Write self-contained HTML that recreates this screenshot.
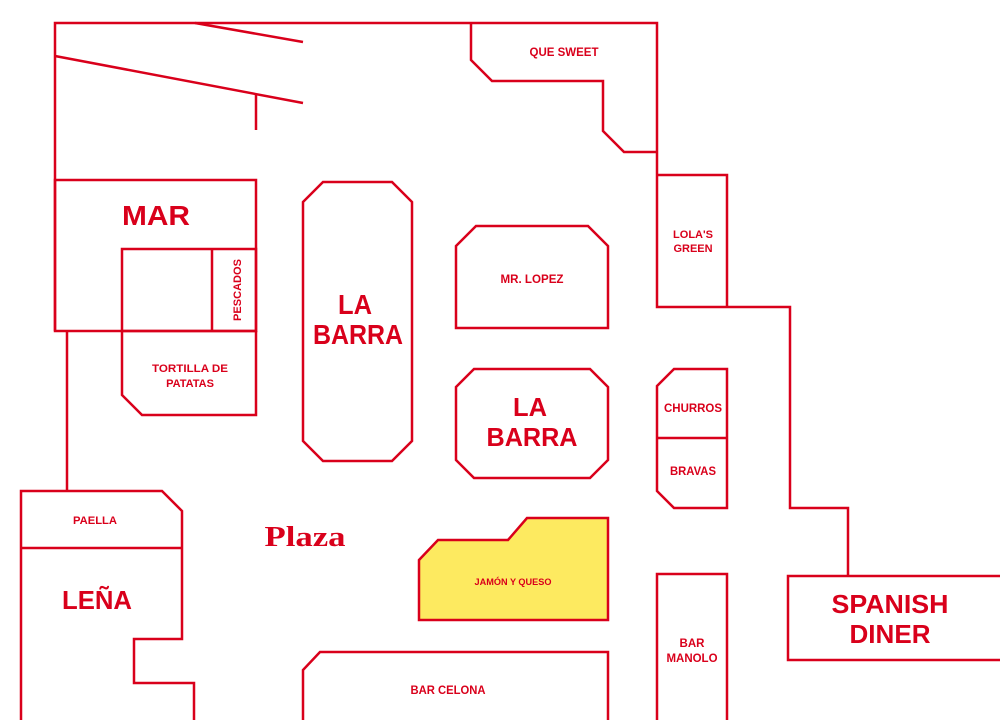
<!DOCTYPE html>
<html><head><meta charset="utf-8"><style>
html,body{margin:0;padding:0;background:#fff;}
svg{display:block;}
text{font-family:"Liberation Sans",sans-serif;font-weight:bold;fill:#d9001b;text-anchor:middle;}
</style></head><body>
<svg width="1000" height="720" viewBox="0 0 1000 720" xmlns="http://www.w3.org/2000/svg">
<g fill="none" stroke="#d9001b" stroke-width="2.5">
<polyline points="55,331 55,23 657,23 657,307 790,307 790,508 848,508 848,576"/>
<line x1="195" y1="23" x2="303" y2="42"/>
<line x1="55" y1="56" x2="303" y2="103"/>
<line x1="256" y1="95" x2="256" y2="130"/>
<polyline points="471,23 471,60 492,81 603,81 603,131 624,152 657,152"/>
<polyline points="657,175 727,175 727,307"/>
<rect x="55" y="180" width="201" height="151"/>
<rect x="122" y="249" width="134" height="82"/>
<line x1="212" y1="249" x2="212" y2="331"/>
<polyline points="122,331 122,395 142,415 256,415 256,331"/>
<line x1="67" y1="331" x2="67" y2="491"/>
<polygon points="323,182 392,182 412,202 412,441 392,461 323,461 303,441 303,202"/>
<polygon points="476,226 588,226 608,246 608,328 456,328 456,246"/>
<polygon points="474,369 590,369 608,387 608,460 590,478 474,478 456,460 456,387"/>
<polygon points="674,369 727,369 727,508 674,508 657,491 657,386"/>
<line x1="657" y1="438" x2="727" y2="438"/>
<polyline points="21,720 21,491 162,491 182,511 182,639 134,639 134,683 194,683 194,720"/>
<line x1="21" y1="548" x2="182" y2="548"/>
<polygon points="419,560 438,540 508,540 527,518 608,518 608,620 419,620" fill="#fdea60"/>
<polyline points="303,720 303,670 320,652 608,652 608,720"/>
<polyline points="657,720 657,574 727,574 727,720"/>
<polyline points="1002,576 788,576 788,660 1002,660"/>
</g>
<text x="564" y="56" font-size="12" textLength="69" lengthAdjust="spacingAndGlyphs">QUE SWEET</text>
<text x="693" y="238" font-size="11">LOLA'S</text>
<text x="693" y="252" font-size="11">GREEN</text>
<text x="156" y="225" font-size="28" textLength="68" lengthAdjust="spacingAndGlyphs">MAR</text>
<text x="238" y="290" font-size="11" transform="rotate(-90 238 290)" dominant-baseline="middle" textLength="62" lengthAdjust="spacingAndGlyphs">PESCADOS</text>
<text x="190" y="372" font-size="11" textLength="76" lengthAdjust="spacingAndGlyphs">TORTILLA DE</text>
<text x="190" y="387" font-size="11">PATATAS</text>
<text x="355" y="314" font-size="28" textLength="34" lengthAdjust="spacingAndGlyphs">LA</text>
<text x="358" y="344" font-size="28" textLength="90" lengthAdjust="spacingAndGlyphs">BARRA</text>
<text x="532" y="283" font-size="12" textLength="63" lengthAdjust="spacingAndGlyphs">MR. LOPEZ</text>
<text x="530" y="416" font-size="26" textLength="34" lengthAdjust="spacingAndGlyphs">LA</text>
<text x="532" y="446" font-size="26" textLength="91" lengthAdjust="spacingAndGlyphs">BARRA</text>
<text x="693" y="412" font-size="11.5" textLength="58" lengthAdjust="spacingAndGlyphs">CHURROS</text>
<text x="693" y="475" font-size="11.5" textLength="46" lengthAdjust="spacingAndGlyphs">BRAVAS</text>
<text x="95" y="524" font-size="11" textLength="44" lengthAdjust="spacingAndGlyphs">PAELLA</text>
<text x="97" y="609" font-size="26" textLength="70" lengthAdjust="spacingAndGlyphs">LEÑA</text>
<text x="305" y="546" font-size="28" style="font-family:'Liberation Serif',serif" textLength="81" lengthAdjust="spacingAndGlyphs">Plaza</text>
<text x="513" y="585" font-size="9.5" textLength="77" lengthAdjust="spacingAndGlyphs">JAMÓN Y QUESO</text>
<text x="448" y="694" font-size="12" textLength="75" lengthAdjust="spacingAndGlyphs">BAR CELONA</text>
<text x="692" y="647" font-size="11.5">BAR</text>
<text x="692" y="662" font-size="11.5" textLength="51" lengthAdjust="spacingAndGlyphs">MANOLO</text>
<text x="890" y="613" font-size="26" textLength="117" lengthAdjust="spacingAndGlyphs">SPANISH</text>
<text x="890" y="643" font-size="26" textLength="81" lengthAdjust="spacingAndGlyphs">DINER</text>
</svg>
</body></html>
